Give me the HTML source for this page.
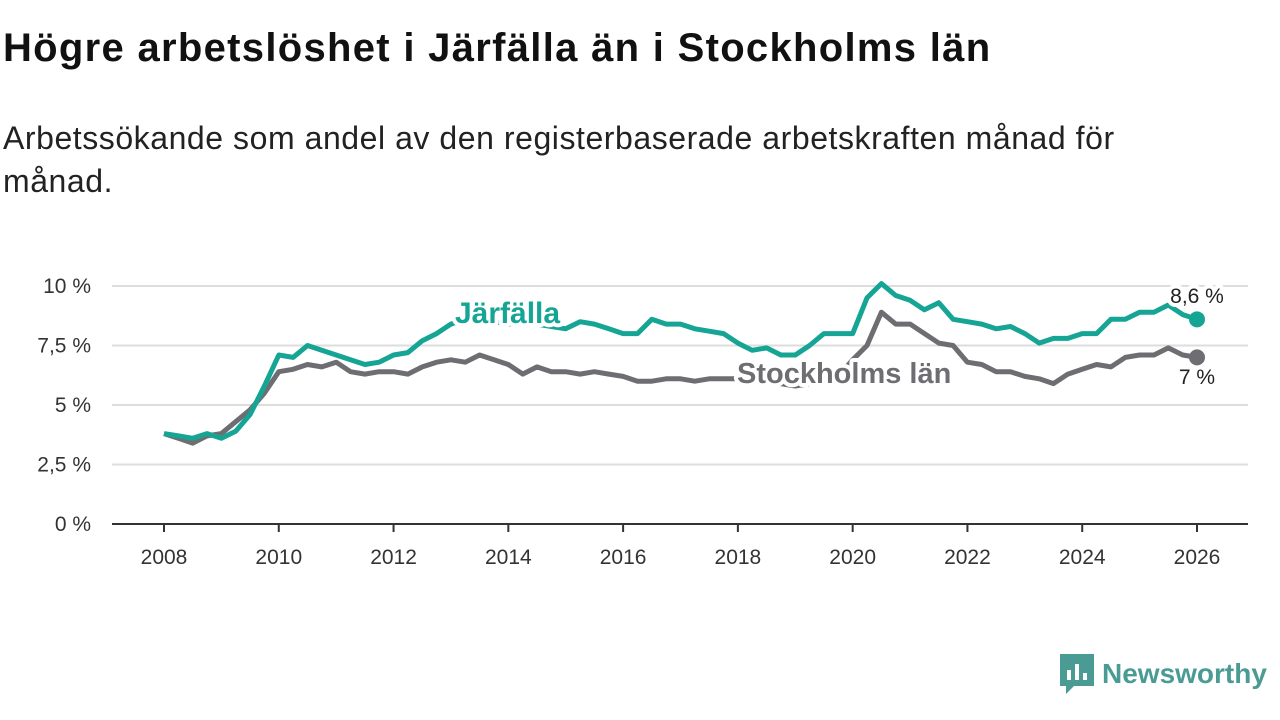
<!DOCTYPE html>
<html><head><meta charset="utf-8"><style>
body{margin:0;width:1280px;height:720px;background:#fff;font-family:"Liberation Sans",sans-serif;overflow:hidden;position:relative}
h1{position:absolute;left:3px;top:26px;margin:0;font-size:40px;letter-spacing:1.3px;font-weight:bold;color:#111;white-space:nowrap}
.sub{position:absolute;left:3px;top:117px;margin:0;font-size:32px;letter-spacing:0.55px;line-height:43px;color:#222;width:1180px}
</style></head><body>
<h1>Högre arbetslöshet i Järfälla än i Stockholms län</h1>
<p class="sub">Arbetssökande som andel av den registerbaserade arbetskraften månad för månad.</p>
<svg id="chart" width="1280" height="720" style="position:absolute;left:0;top:0" font-family="Liberation Sans, sans-serif"></svg>
<div style="position:absolute;left:1060px;top:654px;display:flex;align-items:center;color:#4b9b95;font-size:28px;font-weight:bold">
<svg width="34" height="40" viewBox="0 0 34 40"><path d="M0 0h34v32h-20l-8 8v-8h-6z" fill="#4b9b95"/><rect x="7" y="16" width="4" height="10" fill="#fff"/><rect x="15" y="10" width="4" height="16" fill="#fff"/><rect x="23" y="19" width="4" height="7" fill="#fff"/></svg>
<span style="margin-left:8px">Newsworthy</span></div>
<script>
const years=[2008,2010,2012,2014,2016,2018,2020,2022,2024,2026];
const yTicks=[0,2.5,5,7.5,10];
const yTickLabels=["0 %","2,5 %","5 %","7,5 %","10 %"];
const jarfalla=[3.8,3.7,3.6,3.8, 3.6,3.9,4.6,5.8, 7.1,7.0,7.5,7.3, 7.1,6.9,6.7,6.8, 7.1,7.2,7.7,8.0, 8.4,8.6,8.6,8.5, 8.4,8.5,8.4,8.3, 8.2,8.5,8.4,8.2, 8.0,8.0,8.6,8.4, 8.4,8.2,8.1,8.0, 7.6,7.3,7.4,7.1, 7.1,7.5,8.0,8.0, 8.0,9.5,10.1,9.6, 9.4,9.0,9.3,8.6, 8.5,8.4,8.2,8.3, 8.0,7.6,7.8,7.8, 8.0,8.0,8.6,8.6, 8.9,8.9,9.2,8.8, 8.6];
const stockholm=[3.8,3.6,3.4,3.7, 3.8,4.3,4.8,5.5, 6.4,6.5,6.7,6.6, 6.8,6.4,6.3,6.4, 6.4,6.3,6.6,6.8, 6.9,6.8,7.1,6.9, 6.7,6.3,6.6,6.4, 6.4,6.3,6.4,6.3, 6.2,6.0,6.0,6.1, 6.1,6.0,6.1,6.1, 6.1,6.0,6.0,5.9, 5.8,5.9,6.0,6.2, 6.9,7.5,8.9,8.4, 8.4,8.0,7.6,7.5, 6.8,6.7,6.4,6.4, 6.2,6.1,5.9,6.3, 6.5,6.7,6.6,7.0, 7.1,7.1,7.4,7.1, 7.0];
const svg=document.getElementById('chart');const NS='http://www.w3.org/2000/svg';
const x=t=>164+(t-2008)*(1197-164)/18;
const y=v=>524-v*23.8;
function el(tag,attrs,parent){const e=document.createElementNS(NS,tag);for(const k in attrs)e.setAttribute(k,attrs[k]);(parent||svg).appendChild(e);return e;}
yTicks.forEach((v,i)=>{
  if(v>0){const g=el('line',{x1:112,x2:1248,y1:y(v),y2:y(v),stroke:'#ddd','stroke-width':2});
  
  }
  const t=el('text',{x:91,y:y(v)+7,'text-anchor':'end','font-size':21,fill:'#333'});t.textContent=yTickLabels[i];
  
  
});
const ax=el('line',{x1:112,x2:1248,y1:524,y2:524,stroke:'#333','stroke-width':2});


years.forEach(yr=>{
  const tk=el('line',{x1:x(yr),x2:x(yr),y1:524,y2:532,stroke:'#333','stroke-width':2});
  
  
  const t=el('text',{x:x(yr),y:564,'text-anchor':'middle','font-size':21,fill:'#333'});t.textContent=yr;
  
  
});
function line(data,color,name){
  const d=data.map((v,i)=>(i?'L':'M')+x(2008+i/4).toFixed(1)+' '+y(v).toFixed(1)).join(' ');
  const p=el('path',{d:d,fill:'none',stroke:color,'stroke-width':5,'stroke-linejoin':'round'});
  
  
  const c=el('circle',{cx:x(2026),cy:y(data[data.length-1]),r:8,fill:color});
  
  
}
line(stockholm,'#6e6d72','stockholm');
line(jarfalla,'#16a595','jarfalla');
function label(txt,xx,yy,color,size,weight,anchor,name){
  const t=el('text',{x:xx,y:yy,fill:color,'font-size':size,'font-weight':weight,'text-anchor':anchor||'start',stroke:'#fff','stroke-width':8,'paint-order':'stroke','stroke-linejoin':'round'});
  t.textContent=txt;
  
  
}
label('Järfälla',455,323,'#16a595',30,'bold','start','jarfalla-label');
label('Stockholms län',737,383,'#6e6d72',29,'bold','start','stockholm-label');
label('8,6 %',1197,303,'#222',21,'normal','middle','jarfalla-value');
label('7 %',1197,384,'#222',21,'normal','middle','stockholm-value');
</script>
</body></html>
